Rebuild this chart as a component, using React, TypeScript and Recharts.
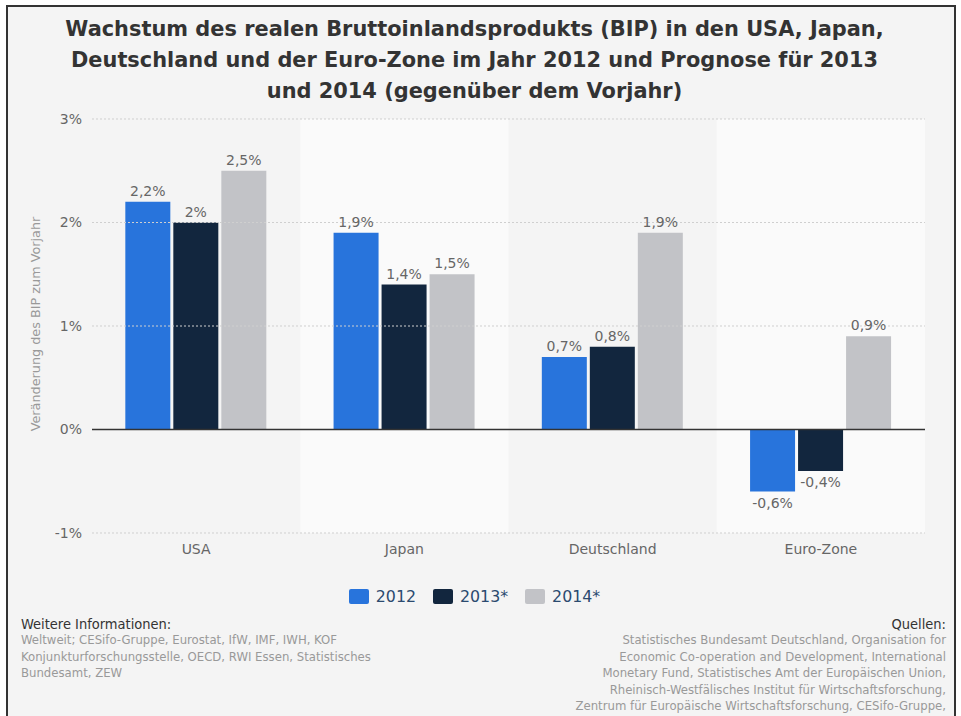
import { BarChart, Bar, XAxis, YAxis, ReferenceArea, ReferenceLine, LabelList } from 'recharts'

const regions = ['USA', 'Japan', 'Deutschland', 'Euro-Zone']
const gdp2012 = [2.2, 1.9, 0.7, -0.6]
const gdp2013 = [2.0, 1.4, 0.8, -0.4]
const gdp2014 = [2.5, 1.5, 1.9, 0.9]
const yTicks = [-1, 0, 1, 2, 3]
const gridTicks = [-1, 1, 2, 3]
const shadedRegions = ['Japan', 'Euro-Zone']

const series = [
  { key: 'y2012', name: '2012', color: '#2874DC' },
  { key: 'y2013', name: '2013*', color: '#12263E' },
  { key: 'y2014', name: '2014*', color: '#C2C3C7' },
]

const data = regions.map((name, i) => ({
  name,
  y2012: gdp2012[i],
  y2013: gdp2013[i],
  y2014: gdp2014[i],
}))

const FONT = '"DejaVu Sans", Verdana, sans-serif'
const COND = '"DejaVu Sans Condensed", "DejaVu Sans", sans-serif'

const fmt = (v: unknown) => `${String(v).replace('.', ',')}%`

const sources = [
  'Statistisches Bundesamt Deutschland, Organisation for',
  'Economic Co-operation and Development, International',
  'Monetary Fund, Statistisches Amt der Europäischen Union,',
  'Rheinisch-Westfälisches Institut für Wirtschaftsforschung,',
  'Zentrum für Europäische Wirtschaftsforschung, CESifo-Gruppe,',
  'Institut für Wirtschaftsforschung Halle, KOF',
]

const infos = [
  'Weltweit; CESifo-Gruppe, Eurostat, IfW, IMF, IWH, KOF',
  'Konjunkturforschungsstelle, OECD, RWI Essen, Statistisches',
  'Bundesamt, ZEW',
]

function YLabel() {
  return (
    <text
      x={35}
      y={324}
      transform="rotate(-90, 35, 324)"
      textAnchor="middle"
      dominantBaseline="central"
      fontSize={12.8}
      fill="#999"
      fontFamily={FONT}
    >
      Veränderung des BIP zum Vorjahr
    </text>
  )
}

export default function App() {
  return (
    <div style={{ position: 'absolute', left: 0, top: 0, width: 961, height: 716, overflow: 'hidden', background: '#fff' }}>
      <div
        style={{
          position: 'absolute', left: 6, top: 5, width: 946, height: 760,
          border: '2px solid #333', background: '#f4f4f4',
        }}
      />
      <div
        style={{
          position: 'absolute', left: 14, top: 14, width: 921, textAlign: 'center',
          fontFamily: FONT, fontWeight: 'bold', fontSize: 20.9, lineHeight: '31px', color: '#333',
        }}
      >
        Wachstum des realen Bruttoinlandsprodukts (BIP) in den USA, Japan,
        <br />
        Deutschland und der Euro-Zone im Jahr 2012 und Prognose für 2013
        <br />
        und 2014 (gegenüber dem Vorjahr)
      </div>

      <div style={{ position: 'absolute', left: 0, top: 0 }}>
        <BarChart
          width={961}
          height={600}
          data={data}
          margin={{ top: 119, right: 36, left: 32, bottom: 37 }}
          barCategoryGap="16%"
          barGap={3}
          style={{ fontFamily: FONT }}
        >
          {shadedRegions.map((r) => (
            <ReferenceArea key={r} x1={r} x2={r} fill="#fafafa" fillOpacity={1} stroke="none" />
          ))}
          {gridTicks.map((t) => (
            <ReferenceLine key={t} y={t} stroke="#cfcfcf" strokeDasharray="2 2" />
          ))}
          <XAxis
            dataKey="name"
            height={30}
            axisLine={false}
            tickLine={false}
            tickMargin={5}
            tick={{ fontSize: 14, fill: '#666' }}
          />
          <YAxis
            width={60}
            domain={[-1, 3]}
            ticks={yTicks}
            interval={0}
            axisLine={false}
            tickLine={false}
            tickMargin={4}
            tickFormatter={(v) => `${v}%`}
            tick={{ fontSize: 14, fill: '#666' }}
            label={{ content: () => <YLabel /> }}
          />
          {series.map((s) => (
            <Bar key={s.key} dataKey={s.key} name={s.name} fill={s.color} isAnimationActive={false}>
              <LabelList dataKey={s.key} position="top" offset={6} formatter={fmt} fontSize={14} fill="#666" />
            </Bar>
          ))}
          <ReferenceLine y={0} stroke="#333" strokeWidth={1.3} />
        </BarChart>
      </div>

      <div
        style={{
          position: 'absolute', left: -6, top: 587, width: 961, display: 'flex', justifyContent: 'center',
          gap: 17, fontFamily: FONT, fontSize: 15.8, color: '#2b4a6f',
        }}
      >
        {series.map((s) => (
          <div key={s.key} style={{ display: 'flex', alignItems: 'center' }}>
            <span style={{ width: 20, height: 15, background: s.color, borderRadius: 2, marginRight: 7, display: 'inline-block' }} />
            <span>{s.name}</span>
          </div>
        ))}
      </div>

      <div style={{ position: 'absolute', left: 21, top: 616, fontFamily: COND, fontSize: 13, lineHeight: '16.4px' }}>
        <div style={{ color: '#333', fontSize: 14.5 }}>Weitere Informationen:</div>
        {infos.map((l) => (
          <div key={l} style={{ color: '#999' }}>{l}</div>
        ))}
      </div>
      <div style={{ position: 'absolute', right: 15, top: 616, textAlign: 'right', fontFamily: COND, fontSize: 13, lineHeight: '16.4px' }}>
        <div style={{ color: '#333', fontSize: 14.5 }}>Quellen:</div>
        {sources.map((l) => (
          <div key={l} style={{ color: '#999' }}>{l}</div>
        ))}
      </div>
    </div>
  )
}
